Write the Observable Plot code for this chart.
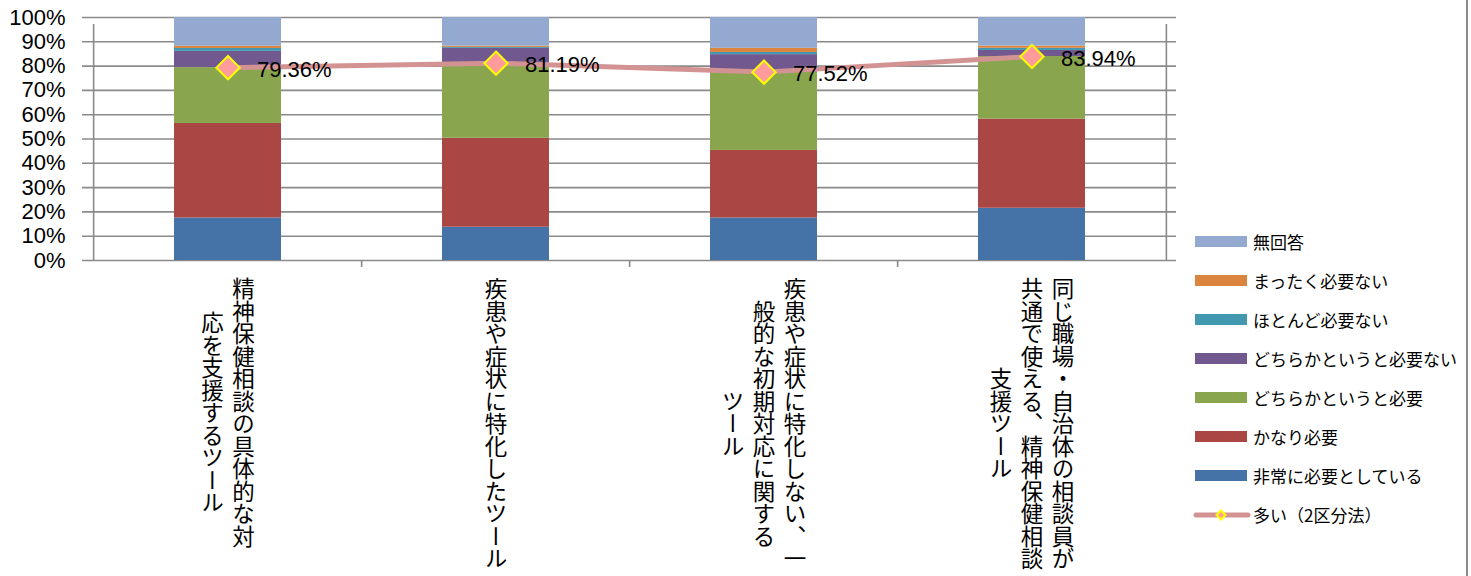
<!DOCTYPE html>
<html><head><meta charset="utf-8">
<script src="https://cdn.jsdelivr.net/npm/d3@7"></script>
<script src="https://cdn.jsdelivr.net/npm/@observablehq/plot@0.6"></script>
<style>
body{margin:0;background:#fff;}
#wrap{position:relative;width:1471px;height:576px;overflow:hidden;background:#fff;}
#legend{position:absolute;left:1193px;top:0;font-family:"Noto Sans CJK JP",sans-serif;}
.item{position:absolute;left:0;height:24px;display:flex;align-items:center;white-space:nowrap;font-size:17px;color:#000;}
.sw{width:52px;height:11px;margin-left:2px;margin-right:6px;flex:none;}
#border{position:absolute;left:1466px;top:0;width:2px;height:576px;background:#8a8a8a;}
</style></head><body><div id="wrap"></div>
<script>
// ---- data ----
const categories = [
  "精神保健相談の具体的な対応を支援するツール",
  "疾患や症状に特化したツール",
  "疾患や症状に特化しない、一般的な初期対応に関するツール",
  "同じ職場・自治体の相談員が共通で使える、精神保健相談支援ツール"
];
const categoryLines = [
  ["精神保健相談の具体的な対", "応を支援するツール"],
  ["疾患や症状に特化したツール"],
  ["疾患や症状に特化しない、一", "般的な初期対応に関する", "ツール"],
  ["同じ職場・自治体の相談員が", "共通で使える、精神保健相談", "支援ツール"]
];
const seriesNames = ["非常に必要としている", "かなり必要", "どちらかというと必要", "どちらかというと必要ない", "ほとんど必要ない", "まったく必要ない", "無回答"];
const seriesColors = ["#4572a7", "#aa4643", "#89a54e", "#71588f", "#4198af", "#db843d", "#93a9cf"];
const veryNeeded        = [17.5, 13.7, 17.5, 21.5];
const quiteNeeded       = [38.9, 36.6, 27.8, 36.7];
const somewhatNeeded    = [22.96, 30.89, 32.22, 25.74];
const somewhatNotNeeded = [6.7, 6.1, 7.2, 2.5];
const hardlyNeeded      = [1.2, 0.4, 0.9, 0.9];
const notAtAllNeeded    = [0.9, 0.5, 1.7, 0.9];
const noAnswer          = [11.84, 11.81, 12.68, 11.76];
const lineName = "多い（2区分法）";
const manyPct = [79.36, 81.19, 77.52, 83.94];
const yTicks = [0, 10, 20, 30, 40, 50, 60, 70, 80, 90, 100];

// ---- build tables ----
const seriesValues = [veryNeeded, quiteNeeded, somewhatNeeded, somewhatNotNeeded, hardlyNeeded, notAtAllNeeded, noAnswer];
const barRows = categories.flatMap((c, i) => seriesNames.map((s, j) => ({cat: c, series: s, value: seriesValues[j][i]})));
const lineRows = categories.map((c, i) => ({cat: c, value: manyPct[i]}));

const W = 1471, H = 576, mL = 92, mR = 304, mT = 17, mB = 316;
const half = (W - mL - mR) / categories.length / 2;
const grid = "#8a8a8a";
const charSize = 22.5, colGap = 31, labelTop = 17;
const labelFont = "Noto Sans CJK JP";

const labelRows = categories.flatMap((c, i) => {
  const lines = categoryLines[i];
  const n = lines.length;
  const maxLen = d3.max(lines, l => l.length);
  return lines.map((t, k) => ({cat: c, text: t, dx: ((n - 1) / 2 - k) * colGap, dy: labelTop + maxLen * charSize / 2}));
});
const labelGroups = d3.groups(labelRows, d => d.dx + "|" + d.dy);

function vertical(index, scales, values, dimensions, context, next) {
  const g = next(index, scales, values, dimensions, context);
  d3.select(g).selectAll("text")
    .attr("writing-mode", "vertical-rl")
    .style("writing-mode", "vertical-rl")
    .attr("y", null);
  return g;
}

const chart = Plot.plot({
  width: W, height: H,
  marginLeft: mL, marginRight: mR, marginTop: mT, marginBottom: mB,
  style: {fontFamily: "'Liberation Sans', Arial, sans-serif", fontSize: "22px", color: "#000", background: "transparent", overflow: "visible"},
  x: {domain: categories, paddingInner: 0.6, paddingOuter: 0.3, axis: null},
  y: {domain: [0, 100], ticks: yTicks, tickFormat: d => d + "%", tickSize: 0, tickPadding: 27, label: null},
  color: {domain: seriesNames, range: seriesColors},
  marks: [
    Plot.ruleY(yTicks, {stroke: grid, strokeWidth: 1.6, insetLeft: -10, insetRight: -9}),
    Plot.barY(barRows, {x: "cat", y: "value", fill: "series", order: seriesNames}),
    Plot.ruleX([categories[0]], {x: d => d, dx: -half, y1: 0, y2: 100, insetBottom: -7, stroke: grid, strokeWidth: 1.6}),
    Plot.ruleX([categories[categories.length - 1]], {x: d => d, dx: half, y1: 0, y2: 100, insetBottom: -7, stroke: grid, strokeWidth: 1.6}),
    Plot.ruleX(categories.slice(1), {x: d => d, dx: -half, y1: 0, y2: 0, insetBottom: -7, stroke: grid, strokeWidth: 1.6}),
    Plot.line(lineRows, {x: "cat", y: "value", stroke: "#d49393", strokeWidth: 5, strokeLinecap: "round"}),
    Plot.dot(lineRows, {x: "cat", y: "value", symbol: "diamond2", r: 10.5, fill: "#ff9b9b", stroke: "#ffff00", strokeWidth: 2}),
    Plot.text(lineRows, {x: "cat", y: "value", text: d => d.value.toFixed(2) + "%", textAnchor: "start", dx: 29, dy: 2, fontSize: 22, fill: "#000"}),
    ...labelGroups.map(([key, rows]) => Plot.text(rows, {
      x: "cat", text: "text", frameAnchor: "bottom", lineAnchor: "bottom",
      dx: rows[0].dx, dy: rows[0].dy, fontSize: charSize, fill: "#000",
      fontFamily: labelFont, render: vertical
    }))
  ]
});

// fallback in case the render option is unavailable: make category labels vertical
const lineSet = new Set(categoryLines.flat());
d3.select(chart).selectAll("text").filter(function() { return lineSet.has(this.textContent); })
  .attr("writing-mode", "vertical-rl")
  .style("writing-mode", "vertical-rl")
  .attr("y", null);

const wrap = document.getElementById("wrap");
wrap.appendChild(chart);

// legend (right side)
const legend = document.createElement("div");
legend.id = "legend";
const legendItems = [...seriesNames].reverse().map(s => ({name: s, color: seriesColors[seriesNames.indexOf(s)]}));
const legendTop = 229, legendStep = 39.1;
legendItems.forEach((it, i) => {
  const d = document.createElement("div");
  d.className = "item";
  d.style.top = (legendTop + i * legendStep) + "px";
  d.innerHTML = `<span class="sw" style="background:${it.color}"></span><span>${it.name}</span>`;
  legend.appendChild(d);
});
const li = document.createElement("div");
li.className = "item";
li.style.top = (legendTop + legendItems.length * legendStep) + "px";
li.innerHTML = `<svg width="60" height="14" style="margin-right:0;flex:none"><line x1="3" y1="7" x2="55" y2="7" stroke="#d49393" stroke-width="5" stroke-linecap="round"/><path d="M28,2.5L32.5,7L28,11.5L23.5,7Z" fill="#ff9b9b" stroke="#ffff00" stroke-width="2"/></svg><span>${lineName}</span>`;
legend.appendChild(li);
wrap.appendChild(legend);

const border = document.createElement("div");
border.id = "border";
wrap.appendChild(border);
</script>
</body></html>
